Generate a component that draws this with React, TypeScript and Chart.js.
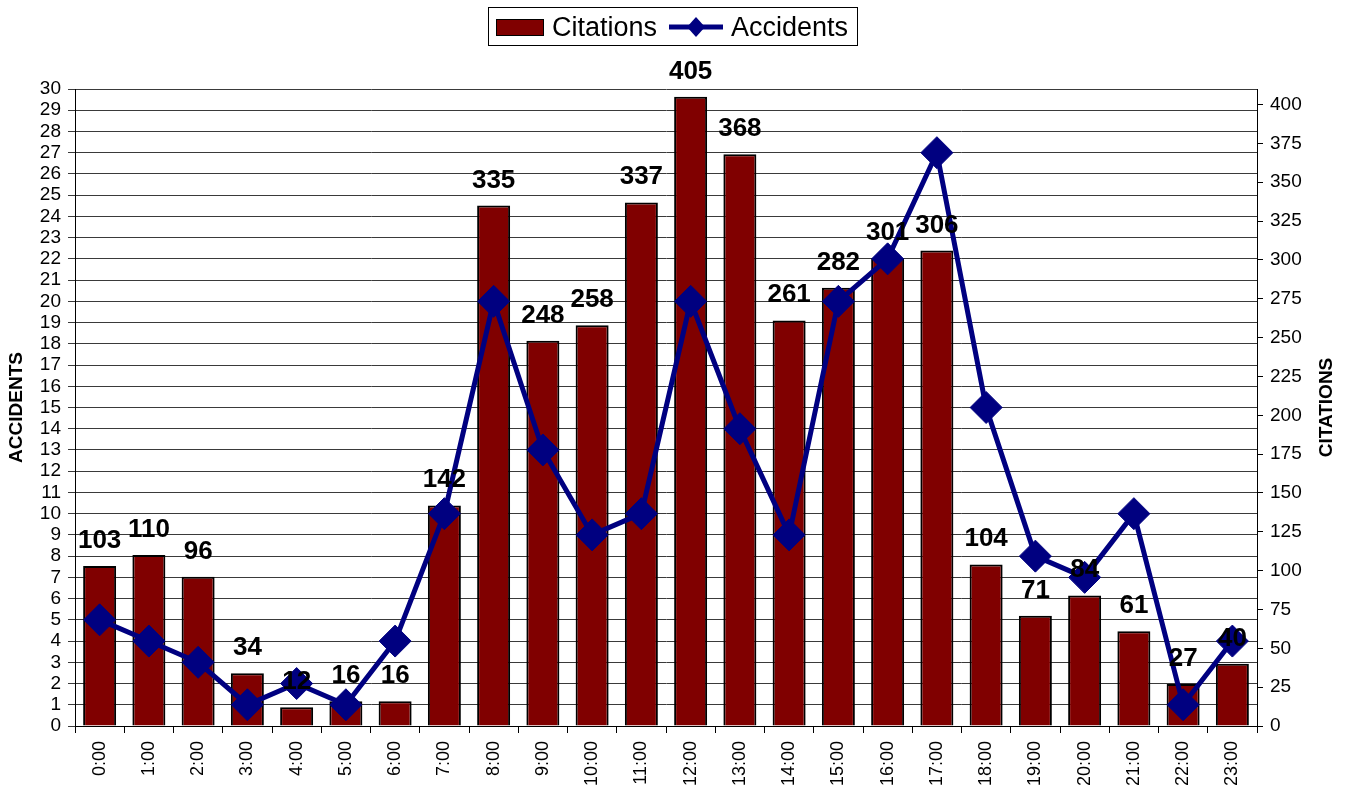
import React, { useEffect, useRef } from 'react';
import { Chart, registerables } from 'chart.js';

Chart.register(...registerables);

const hours = ['0:00', '1:00', '2:00', '3:00', '4:00', '5:00', '6:00', '7:00', '8:00', '9:00', '10:00', '11:00', '12:00', '13:00', '14:00', '15:00', '16:00', '17:00', '18:00', '19:00', '20:00', '21:00', '22:00', '23:00'];
const citations = [103, 110, 96, 34, 12, 16, 16, 142, 335, 248, 258, 337, 405, 368, 261, 282, 301, 306, 104, 71, 84, 61, 27, 40];
const accidents = [5, 4, 3, 1, 2, 1, 4, 10, 20, 13, 9, 10, 20, 14, 9, 20, 22, 27, 15, 8, 7, 10, 1, 4];
const accidentAxis = { min: 0, max: 30, step: 1 };
const citationAxis = { min: 0, max: 410, step: 25 };

const FONT = '"Liberation Sans", Arial, sans-serif';
const BAR_COLOR = '#800000';
const LINE_COLOR = '#000080';

const overlay = {
  id: 'overlay',
  afterDraw(chart: any) {
    const ctx = chart.ctx as CanvasRenderingContext2D;
    ctx.save();
    // data labels on bars
    const meta = chart.getDatasetMeta(1);
    ctx.font = `bold 26px ${FONT}`;
    ctx.fillStyle = '#000';
    ctx.textAlign = 'center';
    ctx.textBaseline = 'alphabetic';
    meta.data.forEach((el: any, i: number) => {
      ctx.fillText(String(citations[i]), el.x, el.y - 18);
    });

    // axis titles
    const { top, bottom } = chart.chartArea;
    const cy = (top + bottom) / 2;
    ctx.font = `bold 19px ${FONT}`;
    ctx.textBaseline = 'middle';
    ctx.save();
    ctx.translate(17, cy);
    ctx.rotate(-Math.PI / 2);
    ctx.fillText('ACCIDENTS', 0, 0);
    ctx.restore();
    ctx.save();
    ctx.translate(1327, cy);
    ctx.rotate(-Math.PI / 2);
    ctx.fillText('CITATIONS', 0, 0);
    ctx.restore();

    // legend
    ctx.fillStyle = '#fff';
    ctx.fillRect(488.5, 7.5, 369, 38);
    ctx.strokeStyle = '#000';
    ctx.lineWidth = 1;
    ctx.strokeRect(488.5, 7.5, 369, 38);
    ctx.fillStyle = BAR_COLOR;
    ctx.fillRect(496.5, 19.5, 47, 16);
    ctx.strokeRect(496.5, 19.5, 47, 16);
    ctx.font = `27px ${FONT}`;
    ctx.fillStyle = '#000';
    ctx.textAlign = 'left';
    ctx.textBaseline = 'alphabetic';
    ctx.fillText('Citations', 552, 36);
    ctx.strokeStyle = LINE_COLOR;
    ctx.lineWidth = 5;
    ctx.beginPath();
    ctx.moveTo(669, 27);
    ctx.lineTo(723, 27);
    ctx.stroke();
    ctx.fillStyle = LINE_COLOR;
    ctx.beginPath();
    ctx.moveTo(696, 17);
    ctx.lineTo(705, 27);
    ctx.lineTo(696, 37);
    ctx.lineTo(687, 27);
    ctx.closePath();
    ctx.fill();
    ctx.fillStyle = '#000';
    ctx.fillText('Accidents', 731, 36);
    ctx.restore();
  },
};

export default function App() {
  const ref = useRef<HTMLCanvasElement | null>(null);

  useEffect(() => {
    document.body.style.margin = '0';
    const canvas = ref.current;
    if (!canvas) return;
    const chart = new Chart(canvas, {
      type: 'bar',
      data: {
        labels: hours,
        datasets: [
          {
            type: 'line',
            label: 'Accidents',
            data: accidents,
            yAxisID: 'yA',
            borderColor: LINE_COLOR,
            backgroundColor: LINE_COLOR,
            borderWidth: 5,
            tension: 0,
            pointStyle: 'rectRot',
            pointRadius: 16,
            pointBorderWidth: 1,
            pointBackgroundColor: LINE_COLOR,
            pointBorderColor: LINE_COLOR,
            order: 0,
          } as any,
          {
            type: 'bar',
            label: 'Citations',
            data: citations,
            yAxisID: 'yC',
            backgroundColor: BAR_COLOR,
            borderColor: '#000',
            borderWidth: 2,
            barPercentage: 0.67,
            categoryPercentage: 1,
            order: 1,
          } as any,
        ],
      },
      options: {
        responsive: false,
        animation: false,
        devicePixelRatio: 1,
        layout: { padding: { top: 89, left: 0, right: 0, bottom: 0 } },
        plugins: {
          legend: { display: false },
          tooltip: { enabled: false },
        },
        scales: {
          x: {
            afterFit: (s: any) => { s.height = 62; },
            grid: { drawOnChartArea: false, drawTicks: true, tickLength: 7, color: '#000', offset: true },
            border: { display: true, color: '#000', width: 1 },
            ticks: {
              autoSkip: false,
              minRotation: 90,
              maxRotation: 90,
              padding: 8,
              color: '#000',
              font: { family: FONT, size: 18 },
            },
          },
          yA: {
            position: 'left',
            min: accidentAxis.min,
            max: accidentAxis.max,
            afterFit: (s: any) => { s.width = 75; },
            grid: { drawOnChartArea: true, drawTicks: true, tickLength: 7, color: '#3a3a3a', lineWidth: 1 },
            border: { display: true, color: '#000', width: 1 },
            ticks: {
              stepSize: accidentAxis.step,
              autoSkip: false,
              padding: 7,
              color: '#000',
              font: { family: FONT, size: 19 },
            },
          },
          yC: {
            position: 'right',
            min: citationAxis.min,
            max: citationAxis.max,
            afterFit: (s: any) => { s.width = 89; },
            grid: { drawOnChartArea: false, drawTicks: true, tickLength: 6, color: '#000' },
            border: { display: true, color: '#000', width: 1 },
            ticks: {
              stepSize: citationAxis.step,
              includeBounds: false,
              autoSkip: false,
              padding: 7,
              color: '#000',
              font: { family: FONT, size: 19 },
            },
          },
        },
      },
      plugins: [overlay],
    } as any);
    return () => chart.destroy();
  }, []);

  return (
    <div style={{ width: 1346, height: 788 }}>
      <canvas ref={ref} width={1346} height={788} style={{ display: 'block' }} />
    </div>
  );
}
